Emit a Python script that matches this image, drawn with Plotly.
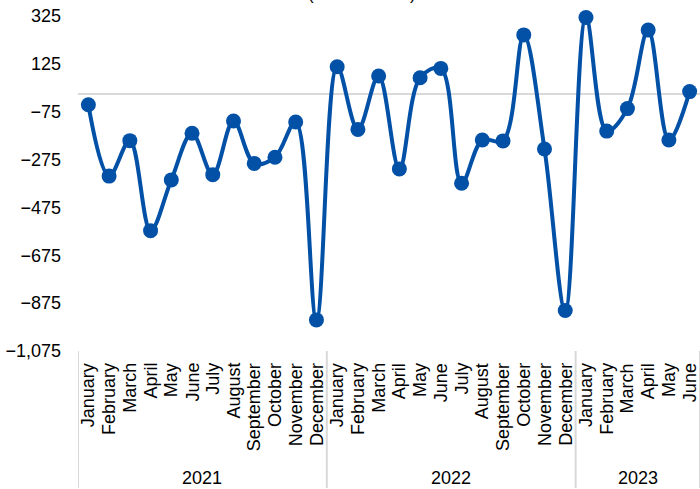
import plotly.graph_objects as go

# Monthly net change, January 2021 - June 2023
years = ["2021", "2022", "2023"]
months_per_year = [12, 12, 6]
month_names = ["January", "February", "March", "April", "May", "June", "July",
               "August", "September", "October", "November", "December"]
months = month_names + month_names + month_names[:6]
values = [-46, -344, -196, -572, -360, -165, -338, -114, -291, -265, -118, -945,
          113, -149, 74, -314, 67, 106, -374, -193, -197, 246, -231, -906,
          319, -156, -62, 266, -193, 9]

line_color = "#0251A7"
divider_color = "#d9d9d9"
font_family = "Arial, 'Liberation Sans', sans-serif"

x_pos = list(range(len(values)))

fig = go.Figure(
    go.Scatter(
        x=x_pos,
        y=values,
        mode="lines+markers",
        line=dict(color=line_color, width=4, shape="spline", smoothing=1),
        marker=dict(color=line_color, size=15),
        showlegend=False,
        cliponaxis=False,
    )
)

annotations = []
shapes = []

# Month labels, rotated under each point
for i, m in enumerate(months):
    annotations.append(dict(
        text=m, x=i, xref="x", y=0, yref="paper",
        xanchor="center", yanchor="top", yshift=-10,
        textangle=-90, showarrow=False, font=dict(size=18),
    ))

# Year labels and group dividers
start = 0
bottom = -137 / 335
for yr, n in zip(years, months_per_year):
    annotations.append(dict(
        text=yr, x=start + (n - 1) / 2, xref="x", y=0, yref="paper",
        xanchor="center", yanchor="middle", yshift=-127,
        showarrow=False, font=dict(size=18),
    ))
    shapes.append(dict(
        type="line", xref="x", yref="paper",
        x0=start - 0.5, x1=start - 0.5, y0=0, y1=bottom,
        line=dict(color=divider_color, width=2),
    ))
    start += n
shapes.append(dict(
    type="line", xref="x", yref="paper",
    x0=start - 0.5, x1=start - 0.5, y0=0, y1=bottom,
    line=dict(color=divider_color, width=2),
))

# Chart heading
annotations.append(dict(
    text="(in thousands)", xref="paper", yref="paper",
    x=(362 - 78) / 622, y=1, xanchor="center", yanchor="bottom",
    yshift=10, showarrow=False, font=dict(size=17),
))

fig.update_layout(
    width=700,
    height=489,
    margin=dict(l=78, r=0, t=16, b=138),
    paper_bgcolor="white",
    plot_bgcolor="white",
    font=dict(family=font_family, size=18, color="#000000"),
    xaxis=dict(
        range=[-0.5, len(values) - 0.5],
        showgrid=False,
        showline=False,
        zeroline=False,
        ticks="",
        showticklabels=False,
    ),
    yaxis=dict(
        range=[-1075, 325],
        tick0=325,
        dtick=200,
        tickformat=",d",
        showgrid=False,
        zeroline=True,
        zerolinecolor=divider_color,
        zerolinewidth=2,
        showline=False,
        ticks="",
        ticklabelstandoff=16,
    ),
    annotations=annotations,
    shapes=shapes,
)

fig.write_html("out.html")
